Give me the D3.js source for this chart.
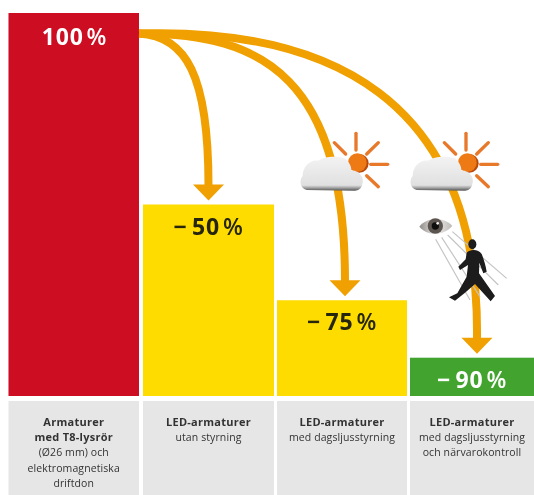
<!DOCTYPE html>
<html><head><meta charset="utf-8">
<script src="https://cdn.jsdelivr.net/npm/d3@7"></script>
<style>html,body{margin:0;padding:0;background:#fff}svg{display:block}</style>
</head><body><div id="c"></div>
<script>
const values=[100,50,25,10];
const valueLabels=["100","\u2212\u200950","\u2212\u200975","\u2212\u200990"];
const barColors=["#cc0a20","#ffdc00","#ffdc00","#43a42e"];
const labelColors=["#fff","#26260a","#26260a","#fff"];
const titles=[["Armaturer","med T8-lysrör"],["LED-armaturer"],["LED-armaturer"],["LED-armaturer"]];
const subtitles=[["(Ø26 mm) och","elektromagnetiska","driftdon"],["utan styrning"],["med dagsljusstyrning"],["med dagsljusstyrning","och närvarokontroll"]];
const W=534,H=495;
const svg=d3.select("#c").append("svg").attr("width",W).attr("height",H).style("font-family","'Open Sans',sans-serif");
const defs=svg.append("defs");
const soft=defs.append("filter").attr("id","soft").attr("x","-5%").attr("y","-5%").attr("width","110%").attr("height","110%");
soft.append("feGaussianBlur").attr("stdDeviation",0.4);
const cg=defs.append("linearGradient").attr("id","cloud").attr("x1",0).attr("x2",0).attr("y1",0).attr("y2",1);
[[0,"#f3f3f3"],[.84,"#e0e0e0"],[.92,"#a0a0a0"],[1,"#555"]].forEach(d=>cg.append("stop").attr("offset",d[0]).attr("stop-color",d[1]));
const eg=defs.append("linearGradient").attr("id","eye").attr("x1",0).attr("x2",1).attr("y1",0).attr("y2",0);
[[0,"#8f8a85"],[.5,"#eeeeee"],[1,"#bdb9b5"]].forEach(d=>eg.append("stop").attr("offset",d[0]).attr("stop-color",d[1]));
const root=svg.append("g").attr("filter","url(#soft)");

const lefts=[8.5,143,277,410], bw=[130.5,131,130,124];
const x=d3.scaleOrdinal().domain(d3.range(4)).range(lefts);
const y=d3.scaleLinear().domain([0,100]).range([396,13]);

// footer panels
root.selectAll("rect.p").data(values).join("rect").attr("class","p")
 .attr("x",(d,i)=>x(i)).attr("width",(d,i)=>bw[i]).attr("y",401).attr("height",94).attr("fill","#e6e6e6");
// bars
root.selectAll("rect.b").data(values).join("rect").attr("class","b")
 .attr("x",(d,i)=>x(i)).attr("width",(d,i)=>bw[i]).attr("y",d=>y(d)).attr("height",d=>y(0)-y(d))
 .attr("fill",(d,i)=>barColors[i]);

// arrows
const cx=i=>x(i)+bw[i]/2;
const startX=x(0)+bw[0], startY=33.5;
const tipX=[null,208.5,345,477];
const arrowHead=16;
const ctrl=[null,[[186,36],[208.5,75]],[[265,33],[345,80]],[[325,28],[480,95]]];
[3,2,1].forEach(i=>{
  const tip=y(values[i])-4, top=tip-arrowHead, tx=tipX[i];
  const p=d3.path();
  p.moveTo(startX,startY);
  p.bezierCurveTo(ctrl[i][0][0],ctrl[i][0][1],ctrl[i][1][0],ctrl[i][1][1],tx,top+1);
  root.append("path").attr("d",p.toString()).attr("fill","none").attr("stroke","#f0a000").attr("stroke-width",8);
  root.append("path").attr("d",`M${tx-15.5},${top}H${tx+15.5}L${tx},${tip}Z`).attr("fill","#f0a000");
});

// value labels
values.forEach((d,i)=>{
  const t=root.append("text").attr("x",i==0?74.5:cx(i)).attr("y",i==0?45:y(d)+30).attr("text-anchor","middle")
   .attr("fill",labelColors[i]).attr("font-size",23).attr("font-weight",700).attr("letter-spacing",.8);
  t.append("tspan").text(valueLabels[i]);
  t.append("tspan").attr("dx",3).attr("font-weight",600).text("%");
});

// footer text
titles.forEach((t,i)=>{
  const lines=t.map(s=>({s,b:1})).concat(subtitles[i].map(s=>({s,b:0})));
  lines.forEach((l,j)=>{
    root.append("text").attr("x",x(i)+bw[i]/2).attr("y",426+j*15.2).attr("text-anchor","middle")
     .attr("font-size",l.b?11:10.5).attr("font-weight",l.b?700:400).attr("letter-spacing",l.b?.25:.1).attr("fill","#333").text(l.s);
  });
});

// cloud + sun icons
const rays=[[198,40,198,90],[133,68,167,102],[265,68,230,102],[242,133,293,133],[230,167,265,200]];
[290,400].forEach(ox=>{
  const g=root.append("g").attr("transform",`translate(${ox},120) scale(${1/3})`);
  rays.forEach(r=>g.append("line").attr("x1",r[0]).attr("y1",r[1]).attr("x2",r[2]).attr("y2",r[3])
    .attr("stroke","#e8782a").attr("stroke-width",10).attr("stroke-linecap","round"));
  g.append("circle").attr("cx",208).attr("cy",130).attr("r",28).attr("fill","#b84a10");
  g.append("circle").attr("cx",202).attr("cy",128).attr("r",28).attr("fill","#ee7a14");
  g.append("path").attr("d","M50,210C28,205 28,178 38,168C38,140 60,118 85,122C100,108 145,108 160,114C172,115 186,140 184,152C205,150 225,172 217,192C214,206 205,212 195,212Z")
   .attr("fill","url(#cloud)");
});

// eye + sensor beams
const beams=[[437,358,540,540],[455,352,570,530],[473,345,625,495],[487,335,650,475]];
const sg=root.append("g").attr("transform",`translate(290,120) scale(${1/3})`);
beams.forEach(b=>sg.append("line").attr("x1",b[0]).attr("y1",b[1]).attr("x2",b[2]).attr("y2",b[3]).attr("stroke","#c4c4c4").attr("stroke-width",3.5));
sg.append("path").attr("d","M388,320C410,292 460,288 487,318C460,348 415,350 388,320Z").attr("fill","url(#eye)");
sg.append("circle").attr("cx",436).attr("cy",318).attr("r",23).attr("fill","#5c5450");
sg.append("circle").attr("cx",436).attr("cy",318).attr("r",11).attr("fill","#111");
sg.append("circle").attr("cx",443).attr("cy",310).attr("r",4).attr("fill","#eee");

// walker
const wg=root.append("g").attr("transform",`translate(400,210) scale(${1/3})`).attr("fill","#1a1a1a");
wg.append("ellipse").attr("cx",217).attr("cy",103).attr("rx",12).attr("ry",15);
wg.append("path").attr("d","M200,128C212,116 236,118 245,132C252,150 258,170 260,185L250,190L238,158L237,190L285,258L272,274L225,222L195,248L165,272L147,262L172,250L200,200L204,165L180,180L175,170L197,148Z");
</script></body></html>
